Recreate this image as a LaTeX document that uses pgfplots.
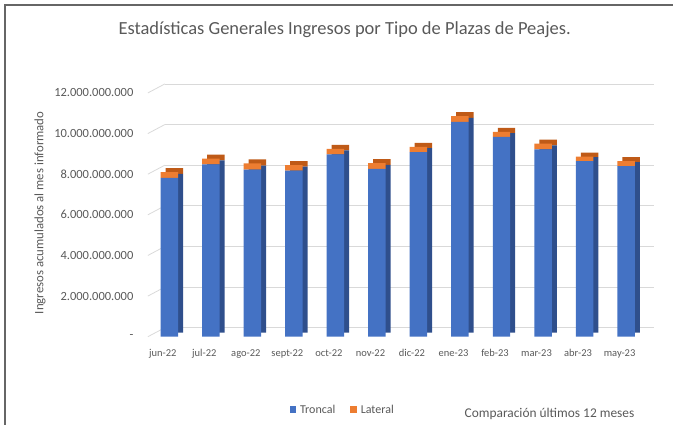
\documentclass[border=0pt]{standalone}
\usepackage{pgfplots}
\usepackage{pgfplotstable}
\pgfplotsset{compat=1.18}
\usepackage{fontspec}
\setmainfont{Carlito}

\definecolor{tronc}{HTML}{4472C4}
\definecolor{lat}{HTML}{ED7D31}
\definecolor{troncdark}{HTML}{2F4F8C}
\definecolor{latdark}{HTML}{BF5A17}
\definecolor{txt}{HTML}{595959}
\definecolor{gridc}{HTML}{D9D9D9}

% valores en miles de millones
\pgfplotstableread{
x troncal lateral
0 7.82 0.28
1 8.48 0.29
2 8.23 0.30
3 8.18 0.26
4 8.97 0.28
5 8.26 0.28
6 9.09 0.26
7 10.58 0.28
8 9.83 0.25
9 9.22 0.28
10 8.64 0.23
11 8.40 0.24
}\datos

\pgfplotsset{
  base/.style={
    at={(148pt,88pt)}, anchor=south west,
    scale only axis, width=490pt, height=244pt,
    xmin=-0.36, xmax=11.43, ymin=0, ymax=12,
    ybar stacked, bar width=17.5pt, clip=false,
  },
}

\begin{document}
\begin{tikzpicture}
\path (0,0) rectangle (674pt,425pt);
\draw[line width=1.2pt, color=black!60] (5pt,0) -- (5pt,420pt) -- (674pt,420pt);

\node[text=txt, font=\fontsize{18.5}{22}\selectfont] at (345pt,395pt)
  {Estadísticas Generales Ingresos por Tipo de Plazas de Peajes.};
\node[text=txt, rotate=90, font=\fontsize{12.8}{15}\selectfont] at (40pt,212pt)
  {Ingresos acumulados al mes informado};
\node[text=txt, font=\fontsize{13.4}{16}\selectfont] at (550pt,11pt)
  {Comparación últimos 12 meses};

% ejes, rejilla y caras laterales/superiores
\begin{axis}[base,
  axis line style={draw=none}, major tick length=0pt,
  xtick={0,...,11},
  xticklabels={jun-22,jul-22,ago-22,sept-22,oct-22,nov-22,dic-22,ene-23,feb-23,mar-23,abr-23,may-23},
  ytick={0,2,...,12},
  yticklabels={-,2.000.000.000,4.000.000.000,6.000.000.000,8.000.000.000,10.000.000.000,12.000.000.000},
  ticklabel style={text=txt},
  xticklabel style={font=\fontsize{10.5}{12}\selectfont, yshift=-9pt},
  yticklabel style={font=\fontsize{12.5}{14}\selectfont, xshift=-11pt},
  ymajorgrids, grid style={gridc, line width=0.8pt, xshift=17pt, yshift=9pt},
]
\pgfplotsinvokeforeach{0,2,4,6,8,10,12}{
  \draw[gridc, line width=0.8pt] (axis cs:-0.36,#1) -- ++(17pt,9pt);
}
\addplot[fill=troncdark, draw=none, bar shift=11.5pt, yshift=4pt]
  table[x=x, y=troncal] {\datos};
\addplot[fill=latdark, draw=none, bar shift=11.5pt, yshift=4pt]
  table[x=x, y=lateral] {\datos};
\end{axis}

% caras frontales
\begin{axis}[base, hide axis,
  legend style={at={(0.40,-0.30)}, anchor=center, draw=none,
    font=\fontsize{12}{14}\selectfont, text=txt, legend columns=2,
    nodes={inner xsep=4pt},
    /tikz/every even column/.append style={column sep=11pt}},
  legend image code/.code={\fill[#1] (0pt,-3pt) rectangle (6.5pt,3.5pt);},
]
\addplot[fill=tronc, draw=none, bar shift=6.5pt]
  table[x=x, y=troncal] {\datos};
\addlegendentry{Troncal}
\addplot[fill=lat, draw=none, bar shift=6.5pt]
  table[x=x, y=lateral] {\datos};
\addlegendentry{Lateral}
\end{axis}
\end{tikzpicture}
\end{document}
